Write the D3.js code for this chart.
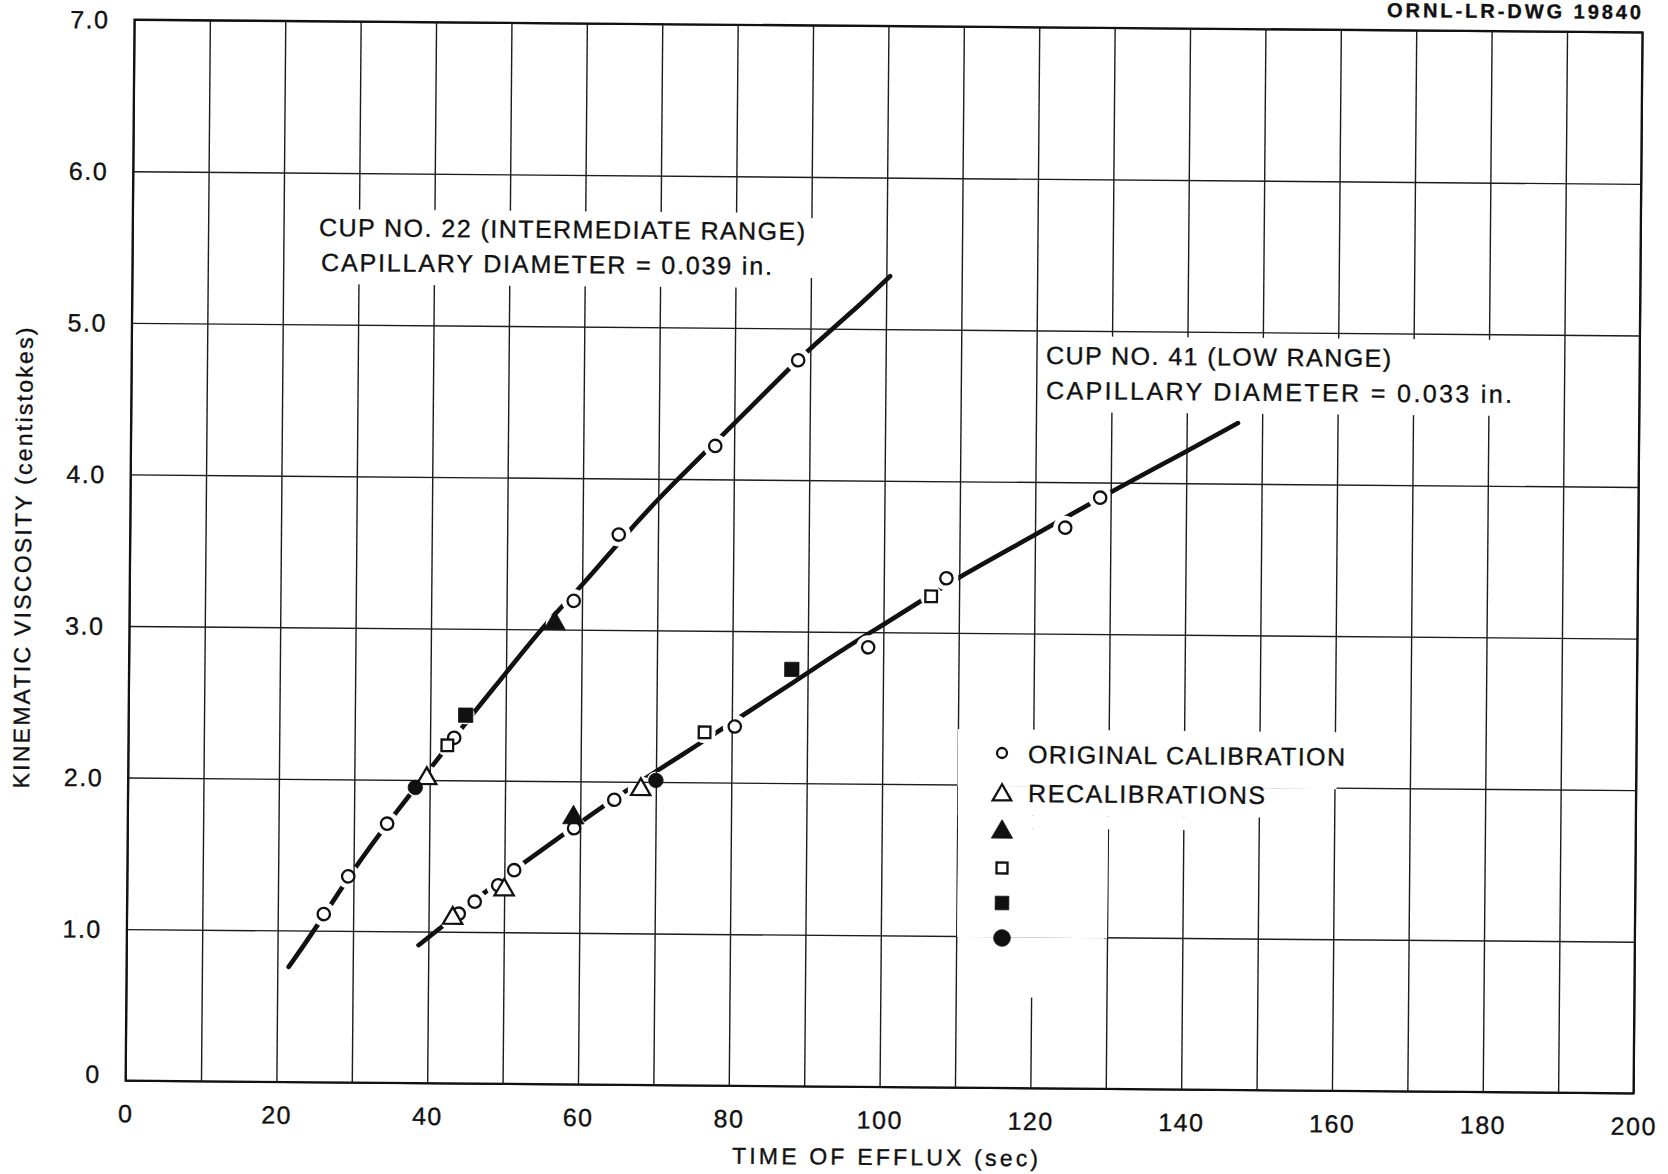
<!DOCTYPE html>
<html>
<head>
<meta charset="utf-8">
<script src="https://cdn.jsdelivr.net/npm/d3@7"></script>
<style>
  html, body { margin: 0; padding: 0; background: #fff; }
  svg { display: block; }
  text { font-family: "Liberation Sans", Arial, sans-serif; fill: #111; stroke: #111; stroke-width: 0.35px; }
</style>
</head>
<body>
<svg id="chart" width="1668" height="1174"></svg>
<script>
// ---- Viscosity cup calibration: kinematic viscosity vs. time of efflux ----

// axis ticks
const xGridValues = [0, 10, 20, 30, 40, 50, 60, 70, 80, 90, 100, 110, 120, 130, 140, 150, 160, 170, 180, 190, 200];
const xTickValues = [0, 20, 40, 60, 80, 100, 120, 140, 160, 180, 200];
const xTickLabels = ["0", "20", "40", "60", "80", "100", "120", "140", "160", "180", "200"];
const yTickValues = [0, 1, 2, 3, 4, 5, 6, 7];
const yTickLabels = ["0", "1.0", "2.0", "3.0", "4.0", "5.0", "6.0", "7.0"];

// faired calibration curves  [time (sec), viscosity (centistokes)]
const cup22Curve = [[21.5, 0.76], [25, 1.01], [30, 1.41], [35, 1.75], [40, 2.07], [45, 2.40], [50, 2.71],
  [55, 3.03], [60, 3.29], [65, 3.59], [70, 3.87], [76, 4.17], [82.4, 4.49], [87.3, 4.74], [90, 4.87],
  [97, 5.18], [100.5, 5.35]];
const cup41Curve = [[38.7, 0.91], [41.2, 1.01], [47.6, 1.27], [52.3, 1.45], [57.6, 1.64], [63.3, 1.85],
  [70.3, 2.08], [75, 2.23], [81, 2.43], [88, 2.66], [95.7, 2.92], [100, 3.05], [105, 3.21], [110, 3.37],
  [120, 3.65], [130, 3.94], [140, 4.21], [146.8, 4.40]];

// measured points, cup no. 22
const cup22Original = [[26.1, 1.11], [29.3, 1.36], [34.4, 1.71], [43.2, 2.28], [58.9, 3.19], [64.8, 3.63], [77.5, 4.22], [88.4, 4.79]];
const cup22Recal = [[39.6, 2.01]];
const cup22FilledTriangle = [[56.4, 3.04]];
const cup22OpenSquare = [[42.3, 2.23]];
const cup22FilledSquare = [[44.7, 2.43]];
const cup22FilledCircle = [[38.1, 1.95]];

// measured points, cup no. 41
const cup41Original = [[44.0, 1.12], [46.1, 1.20], [49.2, 1.31], [51.3, 1.41], [59.2, 1.69], [64.5, 1.88],
  [80.4, 2.37], [98.0, 2.90], [108.3, 3.36], [124.0, 3.70], [128.6, 3.90]];
const cup41Recal = [[43.2, 1.09], [50.0, 1.28], [68.0, 1.95]];
const cup41FilledTriangle = [[59.1, 1.76]];
const cup41OpenSquare = [[76.4, 2.33], [106.3, 3.24]];
const cup41FilledSquare = [[87.9, 2.75]];
const cup41FilledCircle = [[70.0, 2.01]];

// legend
const legendSymbols = ["openCircle", "openTriangle", "filledTriangle", "openSquare", "filledSquare", "filledCircle"];
const legendLabels = ["ORIGINAL CALIBRATION", "RECALIBRATIONS", "", "", "", ""];

// curve annotations
const cup22Note = ["CUP NO. 22 (INTERMEDIATE RANGE)", "CAPILLARY DIAMETER = 0.039 in."];
const cup41Note = ["CUP NO. 41 (LOW RANGE)", "CAPILLARY DIAMETER = 0.033 in."];

// ---------------------------------------------------------------------------
const W = 1668, H = 1174;
const M = { left: 130, right: 1638, top: 26, bottom: 1087 };
// the drawing sits on a slightly turned sheet
const TURN = 0.48, CX = 884, CY = 557;
const rad = TURN * Math.PI / 180;
// convert a position on the turned sheet into drawing coordinates
const sheet = ([px, py]) => {
  const dx = px - CX, dy = py - CY;
  return [CX + dx * Math.cos(rad) + dy * Math.sin(rad), CY - dx * Math.sin(rad) + dy * Math.cos(rad)];
};

const x = d3.scaleLinear().domain([0, 200]).range([M.left, M.right]);
const y = d3.scaleLinear().domain([0, 7]).range([M.bottom, M.top]);

const svg = d3.select("#chart");
svg.append("rect").attr("width", W).attr("height", H).attr("fill", "#fff");
const g = svg.append("g").attr("transform", `rotate(${TURN},${CX},${CY})`);

// grid
g.append("g")
  .attr("transform", `translate(0,${M.bottom})`)
  .call(d3.axisBottom(x).tickValues(xGridValues).tickSize(-(M.bottom - M.top)).tickFormat(""))
  .call(s => s.select(".domain").remove())
  .selectAll("line").attr("stroke", "#1c1c1c").attr("stroke-width", 1.4);
g.append("g")
  .attr("transform", `translate(${M.left},0)`)
  .call(d3.axisLeft(y).tickValues(yTickValues).tickSize(-(M.right - M.left)).tickFormat(""))
  .call(s => s.select(".domain").remove())
  .selectAll("line").attr("stroke", "#1c1c1c").attr("stroke-width", 1.4);

// cleared areas of the grid behind lettering
const clearings = [
  [305, 209, 496, 75],    // cup 22 note
  [800, 218, 15, 60],
  [1040, 336, 482, 76],   // cup 41 note
  [958, 729, 379, 57],    // legend
  [958, 786, 304, 29],
  [958, 815, 232, 13],
  [958, 828, 150, 109],
  [958, 937, 146, 60]
];
g.append("g").selectAll("rect").data(clearings).join("rect")
  .attr("x", d => sheet([d[0], d[1]])[0])
  .attr("y", d => sheet([d[0], d[1]])[1])
  .attr("width", d => d[2]).attr("height", d => d[3])
  .attr("fill", "#fff");

// frame
g.append("rect")
  .attr("x", M.left).attr("y", M.top)
  .attr("width", M.right - M.left).attr("height", M.bottom - M.top)
  .attr("fill", "none").attr("stroke", "#111").attr("stroke-width", 2.2);

// tick labels
g.append("g")
  .attr("transform", `translate(0,${M.bottom})`)
  .call(d3.axisBottom(x).tickValues(xTickValues).tickSize(0).tickPadding(24)
    .tickFormat((d, i) => xTickLabels[i]))
  .call(s => s.select(".domain").remove())
  .selectAll("text").attr("font-size", 25).attr("letter-spacing", 1.5).attr("fill", "#111")
  .attr("font-family", '"Liberation Sans", Arial, sans-serif');
g.append("g")
  .attr("transform", `translate(${M.left},0)`)
  .call(d3.axisLeft(y).tickValues(yTickValues).tickSize(0).tickPadding(25)
    .tickFormat((d, i) => yTickLabels[i]))
  .call(s => s.select(".domain").remove())
  .selectAll("text").attr("font-size", 25).attr("letter-spacing", 1.5).attr("fill", "#111")
  .attr("dy", d => d === 0 ? "0.08em" : "0.34em")
  .attr("font-family", '"Liberation Sans", Arial, sans-serif');

// axis titles
{
  const p = sheet([885, 1165]);
  g.append("text").attr("x", p[0]).attr("y", p[1]).attr("text-anchor", "middle")
    .attr("font-size", 23).attr("textLength", 306).attr("lengthAdjust", "spacing")
    .text("TIME OF EFFLUX (sec)");
  const q = sheet([31, 558]);
  g.append("text").attr("transform", `translate(${q[0]},${q[1]}) rotate(-90)`)
    .attr("text-anchor", "middle").attr("font-size", 23)
    .attr("textLength", 461).attr("lengthAdjust", "spacing")
    .text("KINEMATIC VISCOSITY (centistokes)");
  const h = sheet([1387, 17]);
  g.append("text").attr("x", h[0]).attr("y", h[1]).attr("font-size", 20).attr("font-weight", "bold")
    .attr("textLength", 254).attr("lengthAdjust", "spacing")
    .text("ORNL-LR-DWG 19840");
}

// marker styles
const style = {
  openCircle:     { type: d3.symbolCircle,   size: 120, fill: false, gap: 12 },
  openTriangle:   { type: d3.symbolTriangle, size: 160, fill: false, gap: 13 },
  filledTriangle: { type: d3.symbolTriangle, size: 200, fill: true,  gap: 9 },
  openSquare:     { type: d3.symbolSquare,   size: 135, fill: false, gap: 11 },
  filledSquare:   { type: d3.symbolSquare,   size: 205, fill: true,  gap: 9 },
  filledCircle:   { type: d3.symbolCircle,   size: 165, fill: true,  gap: 9 }
};
const legendSize = { openCircle: 78, openTriangle: 150, filledTriangle: 195, openSquare: 120, filledSquare: 185, filledCircle: 220 };

const points = [];
const addPts = (arr, kind) => arr.forEach(d => points.push({ t: d[0], v: d[1], kind }));
addPts(cup22Original, "openCircle");  addPts(cup41Original, "openCircle");
addPts(cup22Recal, "openTriangle");   addPts(cup41Recal, "openTriangle");
addPts(cup22FilledTriangle, "filledTriangle"); addPts(cup41FilledTriangle, "filledTriangle");
addPts(cup22OpenSquare, "openSquare"); addPts(cup41OpenSquare, "openSquare");
addPts(cup22FilledSquare, "filledSquare"); addPts(cup41FilledSquare, "filledSquare");
addPts(cup22FilledCircle, "filledCircle"); addPts(cup41FilledCircle, "filledCircle");

// break the curves where they pass through a plotted point
const defs = svg.append("defs");
const mask = defs.append("mask").attr("id", "curveGaps").attr("maskUnits", "userSpaceOnUse")
  .attr("x", 0).attr("y", 0).attr("width", W).attr("height", H);
mask.append("rect").attr("x", -50).attr("y", -50).attr("width", W + 100).attr("height", H + 100).attr("fill", "#fff");
mask.selectAll("circle").data(points).join("circle")
  .attr("cx", d => x(d.t)).attr("cy", d => y(d.v)).attr("r", d => style[d.kind].gap).attr("fill", "#000");

const line = d3.line().x(d => x(d[0])).y(d => y(d[1])).curve(d3.curveBasis);
g.append("g").attr("mask", "url(#curveGaps)")
  .selectAll("path").data([cup22Curve, cup41Curve]).join("path")
  .attr("d", line)
  .attr("fill", "none").attr("stroke", "#111").attr("stroke-width", 4.6).attr("stroke-linecap", "round");

// plotted points
const drawMarker = (sel, kind, size) => sel
  .attr("d", d3.symbol().type(style[kind].type).size(size)())
  .attr("fill", style[kind].fill ? "#111" : "#fff")
  .attr("stroke", "#111").attr("stroke-width", style[kind].fill ? 0.8 : 2.3);

g.append("g").selectAll("path").data(points).join("path")
  .attr("transform", d => `translate(${x(d.t)},${y(d.v)})`)
  .each(function (d) { drawMarker(d3.select(this), d.kind, style[d.kind].size); });

// legend
const legendRows = [753, 795, 832, 868, 903, 938];
const lg = g.append("g");
legendSymbols.forEach((kind, i) => {
  const p = sheet([1002, legendRows[i]]);
  lg.append("path").attr("transform", `translate(${p[0]},${p[1]})`)
    .call(s => drawMarker(s, kind, legendSize[kind]));
});
const legendTextPos = [[1028, 763, 317], [1028, 802, 237]];
legendLabels.forEach((label, i) => {
  if (!label) return;
  const [px, py, w] = legendTextPos[i];
  const p = sheet([px, py]);
  lg.append("text").attr("x", p[0]).attr("y", p[1]).attr("font-size", 25)
    .attr("textLength", w).attr("lengthAdjust", "spacing").text(label);
});

// curve annotations
const notes = [
  { lines: cup22Note, pos: [[319, 236, 486], [321, 271, 451]] },
  { lines: cup41Note, pos: [[1046, 364, 345], [1046, 399, 466]] }
];
notes.forEach(n => n.lines.forEach((txt, i) => {
  const [px, py, w] = n.pos[i];
  const p = sheet([px, py]);
  g.append("text").attr("x", p[0]).attr("y", p[1]).attr("font-size", 25)
    .attr("textLength", w).attr("lengthAdjust", "spacing").text(txt);
}));
</script>
</body>
</html>
